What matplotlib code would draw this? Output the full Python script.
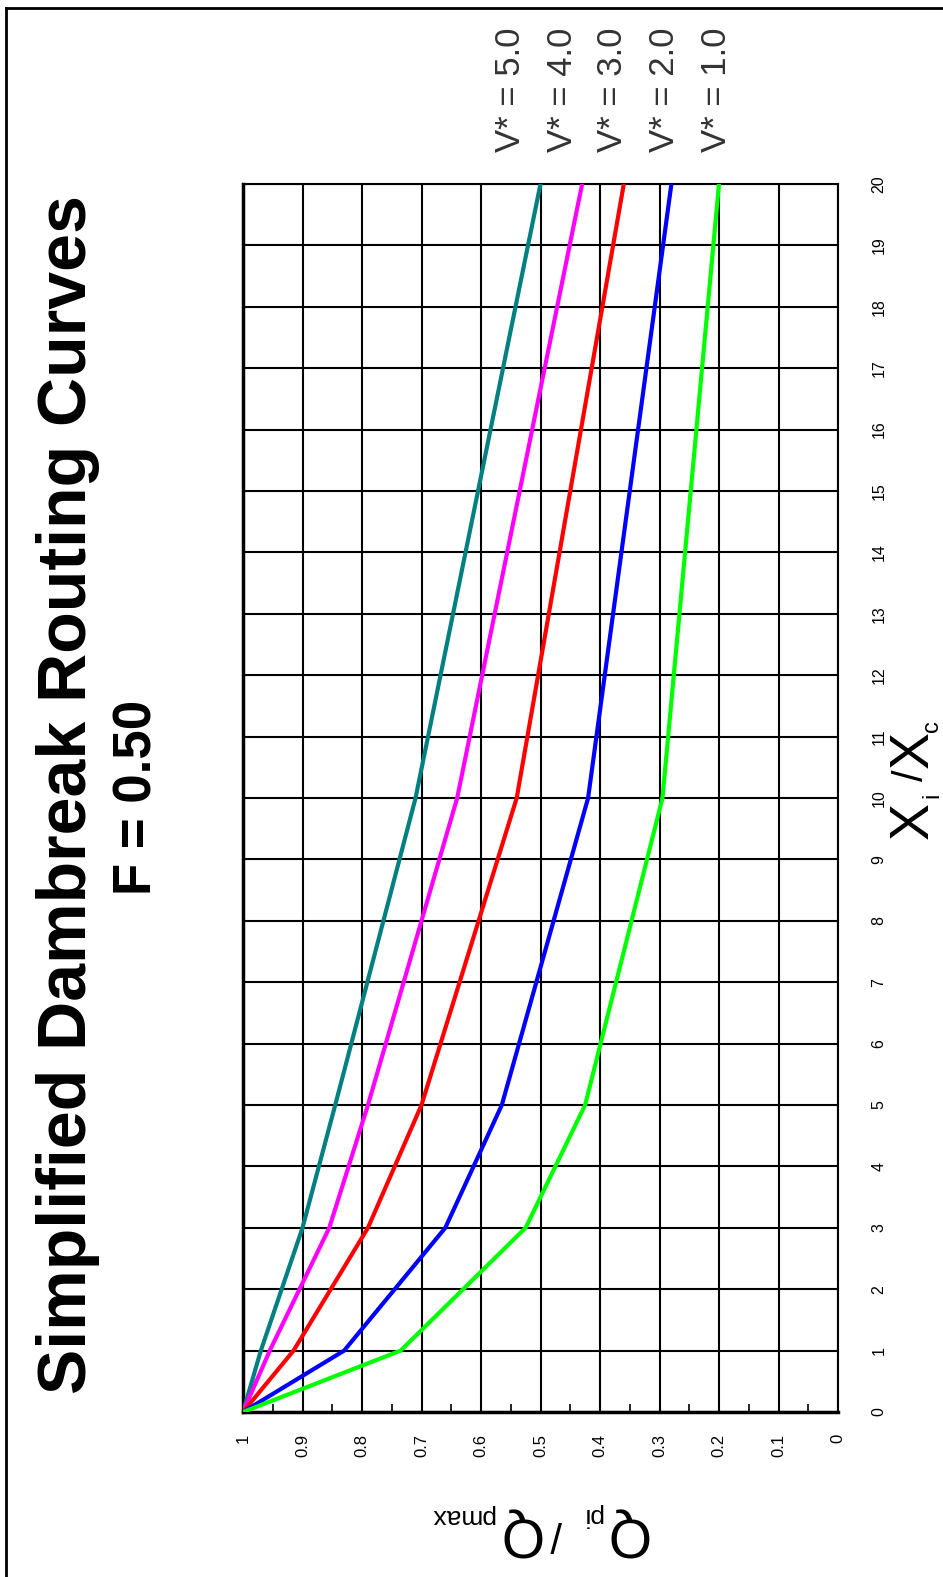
import matplotlib
matplotlib.use("Agg")
import matplotlib.pyplot as plt
from matplotlib.lines import Line2D
from matplotlib.ticker import FixedLocator

plt.rcParams['font.family'] = ['Liberation Sans', 'DejaVu Sans']

# distance ratio Xi/Xc (drawn vertically, the chart is turned on its side)
x_ratio = [0, 1, 3, 5, 10, 20]
# Qpi/Qpmax for each V*
v_star = [5.0, 4.0, 3.0, 2.0, 1.0]
q_v5 = [1.0, 0.97, 0.90, 0.845, 0.71, 0.50]
q_v4 = [1.0, 0.955, 0.855, 0.79, 0.64, 0.43]
q_v3 = [1.0, 0.915, 0.79, 0.70, 0.54, 0.36]
q_v2 = [1.0, 0.83, 0.66, 0.565, 0.42, 0.28]
q_v1 = [1.0, 0.735, 0.525, 0.425, 0.295, 0.20]
q_ticks = [1.0, 0.9, 0.8, 0.7, 0.6, 0.5, 0.4, 0.3, 0.2, 0.1, 0.0]
q_tick_labels = ["1", "0.9", "0.8", "0.7", "0.6", "0.5", "0.4", "0.3",
                 "0.2", "0.1", "0"]
x_ticks = list(range(0, 21))

W, H = 943, 1577
fig = plt.figure(figsize=(W / 100, H / 100), dpi=100)

def fx(px):
  return px / W

def fy(py):
  return 1 - py / H

ax = fig.add_axes([fx(243), fy(1412), fx(838) - fx(243), fy(184) - fy(1412)])
ax.set_xlim(1, 0)
ax.set_ylim(0, 20)

colors = ['#008080', '#ff00ff', '#ff0000', '#0000ff', '#00ff00']
series = [q_v5, q_v4, q_v3, q_v2, q_v1]
for qs, c in zip(series, colors):
  ax.plot(qs, x_ratio, color=c, linewidth=3.0, solid_joinstyle='miter',
          zorder=3)

ax.set_xticks(q_ticks)
ax.set_xticklabels(q_tick_labels, rotation=90, fontsize=12)
ax.xaxis.set_minor_locator(FixedLocator([0.05 + 0.1 * i for i in range(10)]))
ax.tick_params(axis='x', which='major', length=0, pad=16)
ax.tick_params(axis='x', which='minor', length=6, width=1.2, direction='in',
               color='black')

ax.yaxis.tick_right()
ax.set_yticks(x_ticks)
ax.set_yticklabels([str(t) for t in x_ticks], rotation=90, fontsize=11.5,
                   va='center')
ax.tick_params(axis='y', length=0, pad=24)

ax.grid(True, which='major', color='black', linewidth=1.5, zorder=1)
ax.set_axisbelow(True)
for side in ('top', 'right'):
  ax.spines[side].set_linewidth(1.5)
for side in ('left', 'bottom'):
  ax.spines[side].set_linewidth(2.5)

# titles
fig.text(fx(68), fy(795), "Simplified Dambreak Routing Curves", rotation=90,
         fontsize=49, fontweight='bold', ha='center', va='center')
fig.text(fx(137), fy(797), "F = 0.50", rotation=90, fontsize=38,
         fontweight='bold', ha='center', va='center')

# curve labels
label_x = [510, 562, 613, 665, 717]
for v, lx in zip(v_star, label_x):
  fig.text(fx(lx), fy(90), f"V* = {v:.1f}", rotation=90, fontsize=25,
           color='#333333', ha='center', va='center')

# axis titles, built from pieces (big letter + small subscript)
fig.text(fx(914), fy(820), "X", rotation=90, fontsize=40, ha='center',
         va='center')
fig.text(fx(932), fy(795), "i", rotation=90, fontsize=17, ha='center',
         va='center')
fig.text(fx(912), fy(775), "/", rotation=90, fontsize=30, ha='center',
         va='center')
fig.text(fx(914), fy(750), "X", rotation=90, fontsize=40, ha='center',
         va='center')
fig.text(fx(932), fy(726), "c", rotation=90, fontsize=17, ha='center',
         va='center')

fig.text(fx(626), fy(1532), "Q", rotation=180, fontsize=40, ha='center',
         va='center')
fig.text(fx(592), fy(1515), "pi", rotation=180, fontsize=19, ha='center',
         va='center')
fig.text(fx(556), fy(1532), "/", rotation=180, fontsize=30, ha='center',
         va='center')
fig.text(fx(519), fy(1532), "Q", rotation=180, fontsize=40, ha='center',
         va='center')
fig.text(fx(462), fy(1516), "pmax", rotation=180, fontsize=19, ha='center',
         va='center')

# outer frame (only top and left edges are visible)
fig.add_artist(Line2D([fx(6), fx(6)], [fy(8), 0], color='black',
                      linewidth=2, transform=fig.transFigure))
fig.add_artist(Line2D([fx(6), 1], [fy(8), fy(8)], color='black',
                      linewidth=2, transform=fig.transFigure))

fig.savefig("out.png", dpi=100, facecolor='white')
